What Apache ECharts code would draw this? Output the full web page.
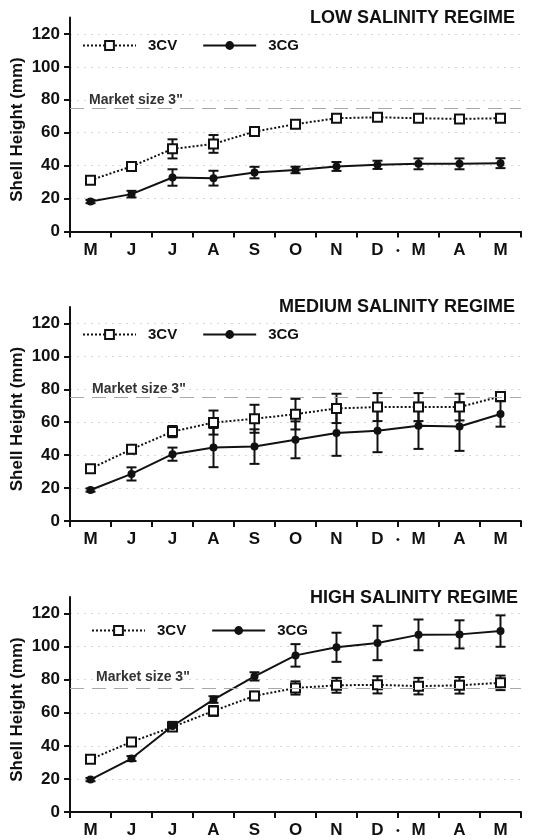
<!DOCTYPE html>
<html><head><meta charset="utf-8">
<script src="https://cdn.jsdelivr.net/npm/echarts@6/dist/echarts.min.js"></script>
<style>html,body{margin:0;padding:0;background:#fff}#c{width:541px;height:840px}</style>
</head><body><div id="c"></div>
<script>
const months = ['M','J','J','A','S','O','N','D','M','A','M'];
const yTicks = [0,20,40,60,80,100,120];
const gridValues = [20,40,60,80,100,120];
const titles = ['LOW SALINITY REGIME','MEDIUM SALINITY REGIME','HIGH SALINITY REGIME'];
const marketSize = 75;
const marketLabel = 'Market size 3"';
const legendNames = ['3CV','3CG'];

const lowCV     = [31.2,39.5,50.2,53.2,60.7,65.2,68.8,69.4,68.8,68.4,68.8];
const lowCVErr  = [1,2,5.8,5.4,2,1.5,1,1,1,1,1];
const lowCG     = [18.2,22.7,32.8,32.4,35.8,37.4,39.5,40.5,41.1,41.1,41.5];
const lowCGErr  = [1,2,5,4.5,3.5,2,2.7,2.5,3.3,3.3,3];

const medCV     = [31.8,43.6,54.3,59.8,62.1,64.9,68.4,69.2,69.2,69.2,75.6];
const medCVErr  = [1,2.5,3.4,7.3,8.5,9.3,8.9,8.5,8.5,8.1,2];
const medCG     = [18.8,28.6,40.6,44.6,45.2,49.3,53.4,54.8,57.8,57.4,65.0];
const medCGErr  = [1,4,4,11.9,10.5,11.2,13.8,13,14,14.8,7.7];

const highCV    = [31.9,42.4,51.4,61.1,70.2,75.0,76.6,76.9,76.1,76.6,78.1];
const highCVErr = [1,1.5,2,3,2.5,4,4.5,5.2,5,5,4.4];
const highCG    = [19.6,32.3,52.0,68.0,82.0,94.7,99.6,102.2,107.1,107.4,109.4];
const highCGErr = [1,1.5,2.5,2,2.5,6.8,8.8,10.4,9.3,8.5,9.5];

const panels = [
  {cv: lowCV, cvErr: lowCVErr, cg: lowCG, cgErr: lowCGErr},
  {cv: medCV, cvErr: medCVErr, cg: medCG, cgErr: medCGErr},
  {cv: highCV, cvErr: highCVErr, cg: highCG, cgErr: highCGErr}
];

const FONT = '"Liberation Sans", Arial, Helvetica, sans-serif';
const INK = '#111';
const gridLayout = [
  {top: 17.5, height: 214},
  {top: 307, height: 214},
  {top: 597, height: 215}
];
const titleLayout = [{top: 8, right: 26}, {top: 297, right: 26}, {top: 588, right: 23}];
const legendLayout = [{top: 38, left: 82}, {top: 327, left: 82}, {top: 623, left: 91}];
const marketLabelOffset = [[19, 1], [22, 1], [26, 4]];

function errRender(params, api) {
  const x = api.value(0), y = api.value(1), e = api.value(2);
  const hi = api.coord([x, y + e]), lo = api.coord([x, y - e]);
  const w = 10;
  const style = {stroke: INK, lineWidth: 2};
  return {type: 'group', children: [
    {type: 'line', shape: {x1: hi[0], y1: hi[1], x2: lo[0], y2: lo[1]}, style},
    {type: 'line', shape: {x1: hi[0] - w / 2, y1: hi[1], x2: hi[0] + w / 2, y2: hi[1]}, style},
    {type: 'line', shape: {x1: lo[0] - w / 2, y1: lo[1], x2: lo[0] + w / 2, y2: lo[1]}, style}
  ]};
}

const grid = [], xAxis = [], yAxis = [], series = [], title = [], legend = [];
panels.forEach((p, i) => {
  grid.push({left: 70, width: 451, top: gridLayout[i].top, height: gridLayout[i].height,
    containLabel: false, outerBoundsMode: 'none'});
  title.push({text: titles[i], right: titleLayout[i].right, top: titleLayout[i].top, padding: 0,
    textStyle: {fontFamily: FONT, fontSize: 18, fontWeight: 'bold', color: INK, lineHeight: 20}});
  legend.push({data: legendNames, top: legendLayout[i].top, left: legendLayout[i].left,
    itemWidth: 53, itemHeight: 11, itemGap: 25, selectedMode: false, padding: 0,
    textStyle: {fontFamily: FONT, fontSize: 15, fontWeight: 'bold', color: INK, padding: [0, 0, 0, 7]}});
  xAxis.push({gridIndex: i, type: 'category', data: months, boundaryGap: true,
    axisLine: {lineStyle: {color: INK, width: 2}},
    axisTick: {show: true, length: 6, lineStyle: {color: INK, width: 2}},
    axisLabel: {interval: 0, margin: 10, fontFamily: FONT, fontSize: 17, fontWeight: 'bold', color: INK},
    splitLine: {show: false}});
  yAxis.push({gridIndex: i, type: 'value', min: 0, max: 130,
    name: 'Shell Height (mm)', nameLocation: 'middle', nameGap: 44, nameMoveOverlap: false,
    nameTextStyle: {fontFamily: FONT, fontSize: 17, fontWeight: 'bold', color: INK, padding: [0, 10, 0, 0]},
    axisLine: {show: true, lineStyle: {color: INK, width: 2}},
    axisTick: {show: true, length: 6, customValues: yTicks, lineStyle: {color: INK, width: 2}},
    axisLabel: {customValues: yTicks, margin: 10, fontFamily: FONT, fontSize: 17, fontWeight: 'bold', color: INK},
    splitLine: {show: false}});
  const toErr = (v, e) => v.map((val, k) => [k, val, e[k]]);
  series.push({type: 'custom', xAxisIndex: i, yAxisIndex: i, renderItem: errRender,
    data: toErr(p.cv, p.cvErr), encode: {x: 0, y: 1}, z: 1, silent: true});
  series.push({type: 'custom', xAxisIndex: i, yAxisIndex: i, renderItem: errRender,
    data: toErr(p.cg, p.cgErr), encode: {x: 0, y: 1}, z: 1, silent: true});
  series.push({name: '3CV', type: 'line', xAxisIndex: i, yAxisIndex: i, data: p.cv, z: 3,
    symbol: 'rect', symbolSize: 9, showAllSymbol: true,
    itemStyle: {color: '#fff', borderColor: INK, borderWidth: 2},
    lineStyle: {color: INK, width: 2, type: [2, 2]},
    markLine: {silent: true, symbol: 'none', animation: false, z: 0,
      lineStyle: {color: '#d4d4d4', width: 1, type: [2, 5]}, label: {show: false},
      data: gridValues.map(v => ({yAxis: v}))}});
  series.push({name: '3CG', type: 'line', xAxisIndex: i, yAxisIndex: i, data: p.cg, z: 4,
    symbol: 'circle', symbolSize: 8, showAllSymbol: true,
    itemStyle: {color: INK},
    lineStyle: {color: INK, width: 2},
    markLine: {silent: true, symbol: 'none', animation: false,
      lineStyle: {color: '#a8a8a8', width: 1, type: [14, 8]},
      label: {show: true, position: 'insideStartTop', formatter: marketLabel, distance: marketLabelOffset[i],
        fontFamily: FONT, fontSize: 14, fontWeight: 'bold', color: '#333'},
      data: [{yAxis: marketSize}]}});
});

const chart = echarts.init(document.getElementById('c'), null, {renderer: 'canvas'});
chart.setOption({animation: false, backgroundColor: '#fff', grid, xAxis, yAxis, series, title, legend});

const graphic = [];
panels.forEach((p, i) => {
  const a = chart.convertToPixel({xAxisIndex: i}, 7);
  const b = chart.convertToPixel({xAxisIndex: i}, 8);
  const y0 = chart.convertToPixel({yAxisIndex: i}, 0);
  graphic.push({type: 'text', x: (a + b) / 2, y: y0 + 19, silent: true,
    style: {text: '•', fontSize: 11, fill: INK, align: 'center', verticalAlign: 'middle', fontFamily: FONT}});
});
chart.setOption({graphic});
</script></body></html>
